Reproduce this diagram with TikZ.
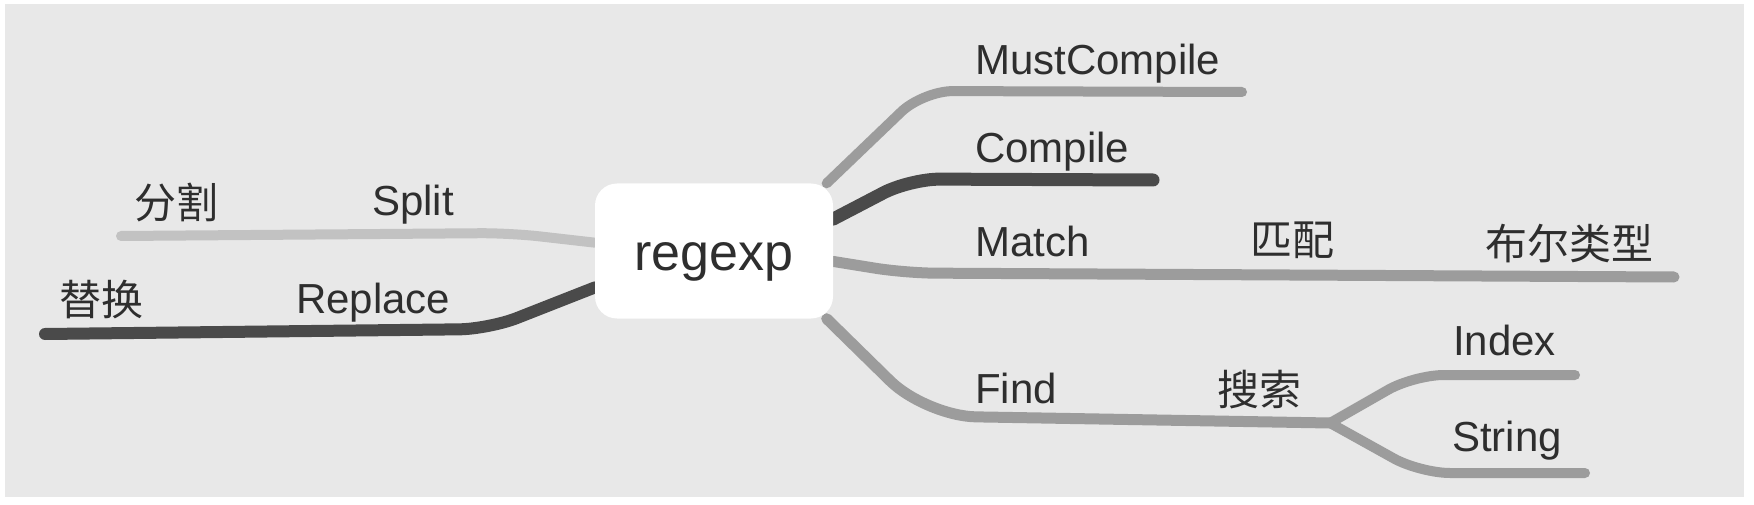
\documentclass[tikz,border=0pt]{standalone}
\usepackage{fontspec}
\setmainfont{Liberation Sans}
\newfontfamily\cjk{Noto Sans CJK SC}
\usetikzlibrary{backgrounds}
\definecolor{bggrey}{HTML}{E8E8E8}
\definecolor{midgrey}{HTML}{9C9C9C}
\definecolor{darkgrey}{HTML}{4A4A4A}
\definecolor{lightgrey}{HTML}{C2C2C2}
\definecolor{textgrey}{HTML}{2E2E2E}

\begin{document}
\begin{tikzpicture}[x=1pt,y=-1pt]
        \tikzset{root/.style = {shape=rectangle,fill=white,rounded corners=22pt,minimum width=238pt,minimum height=135pt,text height=38pt,text depth=0pt,font=\fontsize{52}{60}\selectfont,text=textgrey}};
        \tikzset{word/.style = {anchor=base west,inner sep=0pt,font=\fontsize{42}{50}\selectfont,text=textgrey}};
        \tikzset{hanzi/.style = {anchor=base west,inner sep=0pt,font=\fontsize{42}{50}\selectfont\cjk,text=textgrey}};
        \tikzset{branch/.style = {line width=10pt,line cap=round,line join=round,rounded corners=30pt,draw=midgrey}};
        \useasboundingbox (0,0) rectangle (1754,505);
        % centre
        \node[root] (regexp) at (714,251) {regexp};
        % left side
        \node[hanzi] (fenge) at (134,219) {分割};
        \node[word] (split) at (372,216) {Split};
        \node[hanzi] (tihuan) at (59,315) {替换};
        \node[word] (replace) at (296,313) {Replace};
        % right side
        \node[word] (mustcompile) at (975,75) {MustCompile};
        \node[word] (compile) at (975,163) {Compile};
        \node[word] (match) at (975,257) {Match};
        \node[hanzi] (pipei) at (1250,255) {匹配};
        \node[hanzi] (buer) at (1485,259) {布尔类型};
        \node[word] (find) at (975,403) {Find};
        \node[hanzi] (sousuo) at (1217,405) {搜索};
        \node[word] (index) at (1453,355) {Index};
        \node[word] (string) at (1452,451) {String};
        % bends and ends of the branches
        \coordinate (split-bend) at (510,233);
        \coordinate (split-end) at (121,236);
        \coordinate (replace-bend) at (489,329);
        \coordinate (replace-end) at (45,334);
        \coordinate (must-bend) at (923,91);
        \coordinate (must-end) at (1242,92);
        \coordinate (compile-bend) at (910,179);
        \coordinate (compile-end) at (1153,180);
        \coordinate (match-bend) at (905,273);
        \coordinate (match-end) at (1674,277);
        \coordinate (find-bend) at (926,416);
        \coordinate (fork) at (1330,423);
        \coordinate (index-bend) at (1414,375);
        \coordinate (index-end) at (1575,375);
        \coordinate (string-bend) at (1420,473);
        \coordinate (string-end) at (1585,473);
        \begin{scope}[on background layer]
        \fill[white] (0,0) rectangle (1754,505);
        \fill[bggrey] (5,4) rectangle (1744,497);
        \draw[branch,draw=lightgrey] (regexp.176) -- (split-bend) -- (split-end);
        \draw[branch,draw=darkgrey,line width=12pt] (regexp.197) -- (replace-bend) -- (replace-end);
        \draw[branch] (regexp.31) -- (must-bend) -- (must-end);
        \draw[branch,draw=darkgrey,line width=13pt] (regexp.15) -- (compile-bend) -- (compile-end);
        \draw[branch,line width=11pt] (regexp.-5) -- (match-bend) -- (match-end);
        \draw[branch,line width=11pt,rounded corners=50pt] (regexp.-31) -- (find-bend) -- (fork);
        \draw[branch] (fork) -- (index-bend) -- (index-end);
        \draw[branch] (fork) -- (string-bend) -- (string-end);
        \end{scope}
\end{tikzpicture}
\end{document}
